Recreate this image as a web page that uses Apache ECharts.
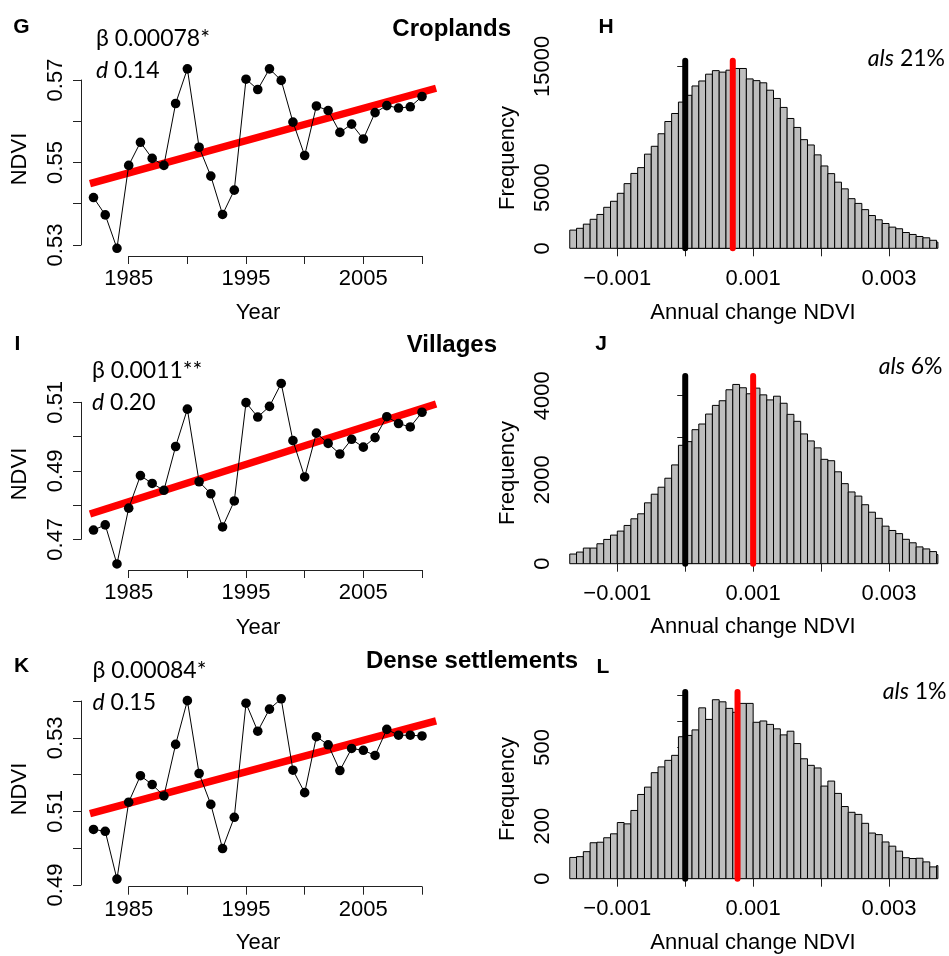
<!DOCTYPE html>
<html>
<head>
<meta charset="utf-8">
<script src="https://cdn.jsdelivr.net/npm/echarts@6.0.0/dist/echarts.min.js"></script>
<style>
  html, body { margin: 0; padding: 0; background: #fff; }
  #container { width: 949px; height: 956px; }
</style>
</head>
<body>
<div id="container"></div>
<script>
// NDVI time series, 1982-2010
const years = [1982, 1983, 1984, 1985, 1986, 1987, 1988, 1989, 1990, 1991, 1992, 1993, 1994, 1995,
  1996, 1997, 1998, 1999, 2000, 2001, 2002, 2003, 2004, 2005, 2006, 2007, 2008, 2009, 2010];
const ndviCrop = [0.5415, 0.5373, 0.5292, 0.5493, 0.5549, 0.5510, 0.5493, 0.5643, 0.5727, 0.5537,
  0.5467, 0.5374, 0.5433, 0.5702, 0.5677, 0.5727, 0.5699, 0.5598, 0.5517, 0.5637, 0.5626, 0.5573,
  0.5593, 0.5557, 0.5621, 0.5638, 0.5632, 0.5635, 0.5660];
const ndviVillage = [0.4727, 0.4742, 0.4628, 0.4791, 0.4886, 0.4863, 0.4843, 0.4971, 0.5080, 0.4868,
  0.4833, 0.4736, 0.4812, 0.5099, 0.5057, 0.5088, 0.5155, 0.4988, 0.4882, 0.5010, 0.4980, 0.4949,
  0.4992, 0.4969, 0.4997, 0.5058, 0.5038, 0.5028, 0.5071];
const ndviDense = [0.5051, 0.5046, 0.4916, 0.5125, 0.5197, 0.5173, 0.5142, 0.5282, 0.5401, 0.5203,
  0.5119, 0.4999, 0.5084, 0.5394, 0.5318, 0.5378, 0.5406, 0.5212, 0.5151, 0.5303, 0.5281, 0.5211,
  0.5271, 0.5266, 0.5252, 0.5323, 0.5307, 0.5307, 0.5305];

// fitted trend lines, at the plot edges
const fitYears = [1981.7, 2011.2];
const fitCrop = [0.5449, 0.5680];
const fitVillage = [0.4774, 0.5095];
const fitDense = [0.5094, 0.5346];

// histograms of annual change, bins of 0.0001 starting at -0.0017
const binStart = -0.0017;
const binWidth = 0.0001;
const histXMax = 0.00372;
const countsCrop = [1500, 1648, 1990, 2390, 2790, 3379, 3874, 4533, 5330, 6170, 6648, 7760, 8407, 9440,
  10450, 11110, 12050, 12610, 13379, 13791, 14350, 14643, 14520, 14680, 14820, 14820, 13960, 13819,
  13640, 13030, 12350, 11610, 10700, 9960, 8955, 8516, 7700, 6786, 6154, 5450, 4900, 4090, 3700,
  3187, 2700, 2350, 2045, 1745, 1610, 1300, 1140, 975, 865, 660, 510];
const countsVillage = [230, 277, 372, 372, 475, 578, 681, 776, 911, 1069, 1188, 1449, 1655, 1821,
  2035, 2352, 2819, 2906, 3191, 3326, 3563, 3769, 3880, 4141, 4268, 4189, 4046, 4180, 4020, 3900,
  3988, 3820, 3556, 3390, 3090, 2923, 2758, 2485, 2452, 2188, 1906, 1708, 1610, 1404, 1226, 1080,
  894, 791, 716, 581, 498, 400, 352, 288, 218];
const countsDense = [81, 84, 103, 137, 139, 156, 171, 214, 209, 260, 321, 349, 404, 426, 451, 470,
  541, 546, 567, 651, 607, 682, 674, 649, 634, 668, 668, 596, 601, 588, 571, 548, 562, 515, 457,
  432, 422, 353, 372, 325, 275, 253, 245, 211, 174, 168, 140, 124, 105, 80, 77, 78, 64, 45, 50];

// vertical markers: zero (black) and observed trend (red)
const obsCrop = 0.0007, obsVillage = 0.001, obsDense = 0.00077;
const lineTops = [15450, 4470, 711];

// tick labels
const yearLabels = [1985, 1995, 2005];
const cropLabels = [0.53, 0.55, 0.57];
const villageLabels = [0.47, 0.49, 0.51];
const denseLabels = [0.49, 0.51, 0.53];
const changeLabels = [-0.001, 0.001, 0.003];
const freqCropLabels = [0, 5000, 15000];
const freqVillageLabels = [0, 2000, 4000];
const freqDenseLabels = [0, 200, 500];

const FONT = '"Liberation Sans", Arial, sans-serif';
const NOTE_FONT = 'Lato, "Open Sans", sans-serif';
const axisColor = '#222';

function hasLabel(list, v) {
  return list.some(l => Math.abs(l - v) < 1e-9);
}

function xAxisCfg(grid, min, max, interval, offset, labels, fmt) {
  return {
    type: 'value', gridIndex: grid, min, max, interval, offset,
    axisLine: { show: true, lineStyle: { color: axisColor, width: 1 } },
    axisTick: { show: true, length: 8, lineStyle: { color: axisColor, width: 1 } },
    splitLine: { show: false },
    axisLabel: {
      margin: 12, fontSize: 22, fontFamily: FONT, color: '#000',
      formatter: v => hasLabel(labels, v) ? fmt(v) : ''
    }
  };
}

function yAxisCfg(grid, min, max, interval, offset, labels, fmt, margin) {
  return {
    type: 'value', gridIndex: grid, min, max, interval, offset,
    axisLine: { show: true, lineStyle: { color: axisColor, width: 1 } },
    axisTick: { show: true, length: 8, lineStyle: { color: axisColor, width: 1 } },
    splitLine: { show: false },
    axisLabel: {
      rotate: 90, margin, fontSize: 22, fontFamily: FONT, color: '#000',
      formatter: v => hasLabel(labels, v) ? fmt(v) : ''
    }
  };
}

const fmtYear = v => String(Math.round(v));
const fmtNdvi = v => v.toFixed(2);
const fmtChange = v => (v < 0 ? '\u2212' : '') + Math.abs(v).toFixed(3);
const fmtCount = v => String(Math.round(v));

function renderSegment(width, color) {
  return function (params, api) {
    const a = api.coord([api.value(0), api.value(1)]);
    const b = api.coord([api.value(2), api.value(3)]);
    return {
      type: 'line',
      shape: { x1: a[0], y1: a[1], x2: b[0], y2: b[1] },
      style: { stroke: color, lineWidth: width, lineCap: 'butt' }
    };
  };
}

function renderDot(params, api) {
  const p = api.coord([api.value(0), api.value(1)]);
  return { type: 'circle', shape: { cx: p[0], cy: p[1], r: 4.8 }, style: { fill: '#000' } };
}

function ndviSeries(idx, vals, fit) {
  const segs = [];
  for (let i = 0; i < years.length - 1; i++) {
    segs.push([years[i], vals[i], years[i + 1], vals[i + 1]]);
  }
  const base = { type: 'custom', xAxisIndex: idx, yAxisIndex: idx, clip: false, silent: true };
  return [
    Object.assign({}, base, {
      z: 2, renderItem: renderSegment(7.5, '#ff0000'), encode: { x: [0, 2], y: [1, 3] },
      data: [[fitYears[0], fit[0], fitYears[1], fit[1]]]
    }),
    Object.assign({}, base, {
      z: 3, renderItem: renderSegment(1, '#000'), encode: { x: [0, 2], y: [1, 3] },
      data: segs
    }),
    Object.assign({}, base, {
      z: 4, renderItem: renderDot, encode: { x: 0, y: 1 },
      data: years.map((y, i) => [y, vals[i]])
    })
  ];
}

function renderBar(params, api) {
  const p0 = api.coord([api.value(0), api.value(2)]);
  const p1 = api.coord([api.value(1), 0]);
  return {
    type: 'rect',
    shape: { x: p0[0], y: p0[1], width: p1[0] - p0[0], height: p1[1] - p0[1] },
    style: { fill: '#bebebe', stroke: '#000', lineWidth: 1 }
  };
}

function histSeries(idx, counts, obs, top) {
  const bins = counts.map((c, i) => [
    binStart + i * binWidth,
    Math.min(binStart + (i + 1) * binWidth, histXMax),
    c
  ]);
  return [
    {
      type: 'custom', xAxisIndex: idx, yAxisIndex: idx, clip: false, silent: true, z: 2,
      renderItem: renderBar, encode: { x: [0, 1], y: 2 }, data: bins
    },
    {
      type: 'line', xAxisIndex: idx, yAxisIndex: idx, clip: false, silent: true, z: 3,
      showSymbol: false, data: [[0, 0], [0, top]],
      lineStyle: { color: '#000', width: 6, cap: 'round' }
    },
    {
      type: 'line', xAxisIndex: idx, yAxisIndex: idx, clip: false, silent: true, z: 3,
      showSymbol: false, data: [[obs, 0], [obs, top]],
      lineStyle: { color: '#ff0000', width: 6, cap: 'round' }
    }
  ];
}

function txt(x, y, text, opts) {
  return {
    type: 'text', x, y, rotation: opts.rotation || 0, silent: true,
    style: Object.assign({
      text, fill: '#000', fontFamily: FONT, fontSize: 22,
      align: 'center', verticalAlign: 'middle'
    }, opts.style || {})
  };
}

const letterStyle = { fontWeight: 'bold', fontSize: 21 };
const titleStyle = { fontWeight: 'bold', fontSize: 24, align: 'right' };
const noteStyle = {
  fontFamily: NOTE_FONT, fontSize: 23, align: 'left',
  rich: { i: { fontStyle: 'italic', fontFamily: NOTE_FONT, fontSize: 23 } }
};
const alsStyle = Object.assign({}, noteStyle, { align: 'right' });
const ROT = Math.PI / 2;

const graphics = [
  txt(21.5, 27, 'G', { style: letterStyle }),
  txt(606, 27, 'H', { style: letterStyle }),
  txt(17.5, 344, 'I', { style: letterStyle }),
  txt(601, 344, 'J', { style: letterStyle }),
  txt(21.5, 666, 'K', { style: letterStyle }),
  txt(603, 667, 'L', { style: letterStyle }),

  txt(511, 29, 'Croplands', { style: titleStyle }),
  txt(497, 345, 'Villages', { style: titleStyle }),
  txt(578, 661, 'Dense settlements', { style: titleStyle }),

  txt(96, 39, '\u03b2 0.00078*', { style: noteStyle }),
  txt(96, 71, '{i|d} 0.14', { style: noteStyle }),
  txt(92, 371, '\u03b2 0.0011**', { style: noteStyle }),
  txt(92, 403, '{i|d} 0.20', { style: noteStyle }),
  txt(92.5, 671, '\u03b2 0.00084*', { style: noteStyle }),
  txt(92.5, 703, '{i|d} 0.15', { style: noteStyle }),

  txt(945, 59, '{i|als} 21%', { style: alsStyle }),
  txt(942.5, 367, '{i|als} 6%', { style: alsStyle }),
  txt(946.5, 692, '{i|als} 1%', { style: alsStyle }),

  txt(258, 313, 'Year', {}),
  txt(258, 628, 'Year', {}),
  txt(258, 943, 'Year', {}),
  txt(20, 159, 'NDVI', { rotation: ROT }),
  txt(20, 474, 'NDVI', { rotation: ROT }),
  txt(20, 789, 'NDVI', { rotation: ROT }),

  txt(753, 313, 'Annual change NDVI', {}),
  txt(753, 627, 'Annual change NDVI', {}),
  txt(753, 943, 'Annual change NDVI', {}),
  txt(507.5, 158, 'Frequency', { rotation: ROT }),
  txt(507.5, 473, 'Frequency', { rotation: ROT }),
  txt(507.5, 789, 'Frequency', { rotation: ROT })
];

const dom = document.getElementById('container');
const chart = echarts.init(dom, null, { renderer: 'canvas' });

chart.setOption({
  animation: false,
  backgroundColor: '#fff',
  grid: [
    { left: 128.7, top: 80, width: 293.3, height: 165, outerBoundsMode: 'none' },
    { left: 617.3, top: 66.3, width: 271.7, height: 182, outerBoundsMode: 'none' },
    { left: 128.7, top: 402.3, width: 293.3, height: 137, outerBoundsMode: 'none' },
    { left: 617.3, top: 395.7, width: 271.7, height: 168, outerBoundsMode: 'none' },
    { left: 128.7, top: 701, width: 293.3, height: 184, outerBoundsMode: 'none' },
    { left: 617.3, top: 695, width: 271.7, height: 183.7, outerBoundsMode: 'none' }
  ],
  xAxis: [
    xAxisCfg(0, 1985, 2010, 5, 11, yearLabels, fmtYear),
    xAxisCfg(1, -0.001, 0.003, 0.001, 7.4, changeLabels, fmtChange),
    xAxisCfg(2, 1985, 2010, 5, 30.7, yearLabels, fmtYear),
    xAxisCfg(3, -0.001, 0.003, 0.001, 7, changeLabels, fmtChange),
    xAxisCfg(4, 1985, 2010, 5, 1.7, yearLabels, fmtYear),
    xAxisCfg(5, -0.001, 0.003, 0.001, 7.3, changeLabels, fmtChange)
  ],
  yAxis: [
    yAxisCfg(0, 0.53, 0.57, 0.01, 47.7, cropLabels, fmtNdvi, 14),
    yAxisCfg(1, 0, 15000, 5000, 48, freqCropLabels, fmtCount, 15),
    yAxisCfg(2, 0.47, 0.51, 0.01, 47.7, villageLabels, fmtNdvi, 14),
    yAxisCfg(3, 0, 4000, 1000, 48, freqVillageLabels, fmtCount, 15),
    yAxisCfg(4, 0.49, 0.54, 0.01, 47.7, denseLabels, fmtNdvi, 14),
    yAxisCfg(5, 0, 700, 100, 48, freqDenseLabels, fmtCount, 15)
  ],
  series: [].concat(
    ndviSeries(0, ndviCrop, fitCrop),
    histSeries(1, countsCrop, obsCrop, lineTops[0]),
    ndviSeries(2, ndviVillage, fitVillage),
    histSeries(3, countsVillage, obsVillage, lineTops[1]),
    ndviSeries(4, ndviDense, fitDense),
    histSeries(5, countsDense, obsDense, lineTops[2])
  ),
  graphic: graphics
});
</script>
</body>
</html>
